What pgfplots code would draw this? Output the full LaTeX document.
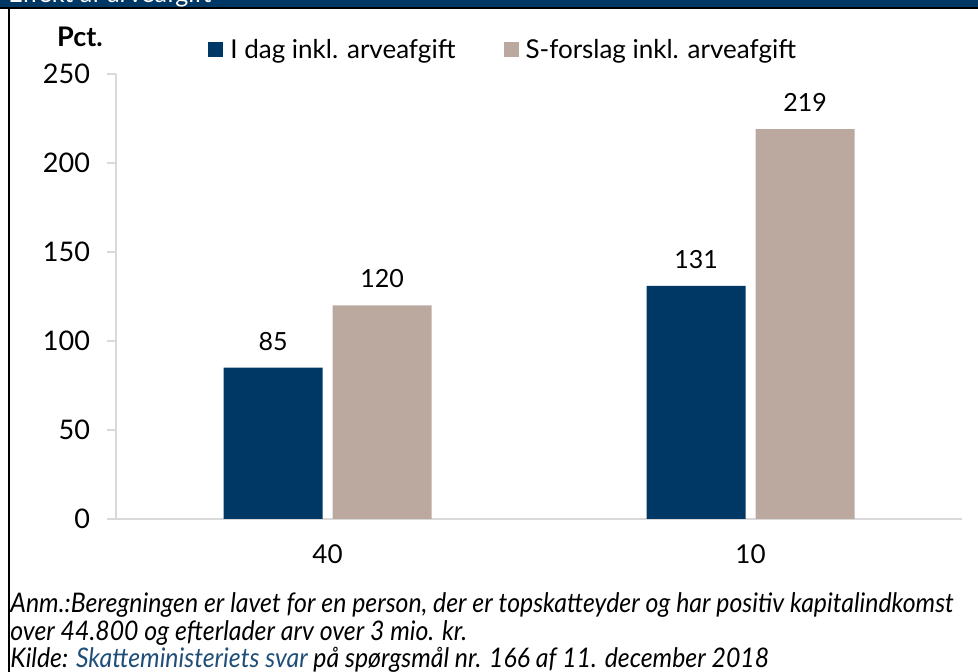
\documentclass[border=0pt]{standalone}
\usepackage{fontspec}
\setmainfont{Lato}
\newfontfamily\footfont[FakeStretch=0.92]{Lato}
\usepackage{pgfplots}
\pgfplotsset{compat=1.18}
\definecolor{dkblue}{RGB}{0,56,101}
\definecolor{beige}{RGB}{187,169,160}
\definecolor{axgray}{RGB}{217,217,217}
\definecolor{linkblue}{RGB}{31,78,121}
\begin{document}
\begin{tikzpicture}[font=\fontsize{12.5pt}{15pt}\selectfont]
% header and frame
\fill[dkblue] (0pt,332pt) rectangle (489pt,340pt);
\node[anchor=base west, inner sep=0pt, text=white] at (4pt,334.5pt) {Effekt af arveafgift};
\draw[black, line width=1.25pt] (0pt,331.9pt) -- (489pt,331.9pt);
\draw[black, line width=1pt] (4.5pt,332.5pt) -- (4.5pt,-2pt);
\begin{axis}[
 at={(58pt,76.5pt)}, anchor=south west,
 scale only axis, width=423pt, height=222.5pt,
 ybar=5pt, bar width=49.5pt,
 xmin=-0.5, xmax=1.5, ymin=0, ymax=250,
 xtick={0,1}, xticklabels={40,10},
 ytick={0,50,...,250},
 axis x line*=bottom, axis y line*=left,
 axis line style={draw=axgray, line width=0.75pt, -},
 x axis line style={-}, y axis line style={-},
 tick align=outside, major tick length=4.5pt,
 ytick style={draw=axgray, line width=0.75pt},
 xtick style={draw=none},
 /pgf/number format/assume math mode=true,
 ticklabel style={text=black},
 yticklabel style={font=\fontsize{13.5pt}{16pt}\selectfont, xshift=-5pt},
 xticklabel style={font=\fontsize{13pt}{16pt}\selectfont, anchor=base, yshift=-18pt},
 nodes near coords,
 every node near coord/.append style={anchor=base, yshift=8.75pt, font=\fontsize{12.5pt}{15pt}\selectfont, text=black},
 legend style={at={(0.10875,1.054)}, anchor=west, draw=none, fill=none,
   font=\fontsize{13pt}{16pt}\selectfont, inner sep=0pt, nodes={inner sep=0pt},
   /tikz/every odd column/.append style={column sep=3.5pt},
   /tikz/every even column/.append style={column sep=24pt}},
 legend columns=2,
 clip=false,
]
\addplot[fill=dkblue, draw=none, legend image code/.code={\fill[dkblue] (0pt,-3.75pt) rectangle (7.5pt,3.75pt);}] coordinates {(0,85) (1,131)};
\addplot[fill=beige, draw=none, legend image code/.code={\fill[beige] (0pt,-3.75pt) rectangle (7.5pt,3.75pt);}] coordinates {(0,120) (1,219)};
\legend{I dag inkl. arveafgift, S-forslag inkl. arveafgift}
\end{axis}
\node[anchor=base, inner sep=0pt, font=\bfseries\fontsize{13.5pt}{16pt}\selectfont] at (40pt,312.5pt) {Pct.};
\begin{scope}[every node/.style={anchor=base west, inner sep=0pt, font=\footfont\itshape\fontsize{13.5pt}{16pt}\selectfont}]
\node at (5pt,29.5pt) {Anm.:Beregningen er lavet for en person, der er topskatteyder og har positiv kapitalindkomst};
\node at (5pt,15.5pt) {over 44.800 og efterlader arv over 3 mio. kr.};
\node at (5pt,2pt) {Kilde: \textcolor{linkblue}{Skatteministeriets svar} på spørgsmål nr. 166 af 11. december 2018};
\end{scope}
\pgfresetboundingbox
\path[use as bounding box] (0pt,0pt) rectangle (489pt,336pt);
\end{tikzpicture}
\end{document}
